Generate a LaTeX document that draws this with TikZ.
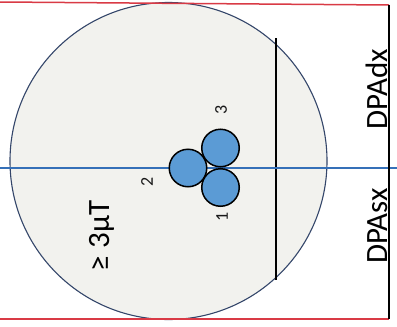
\documentclass[tikz,border=0pt]{standalone}
\usepackage{fontspec}
\setmainfont{Carlito}
\definecolor{discfill}{HTML}{F2F2EE}
\definecolor{discline}{HTML}{34466A}
\definecolor{cablefill}{HTML}{5B9BD5}
\definecolor{axisblue}{HTML}{3570B8}
\definecolor{edgered}{HTML}{D93A45}

\begin{document}
\begin{tikzpicture}[x=1pt, y=-1pt,
    disc/.style={circle, draw=discline, line width=1.1pt, fill=discfill, inner sep=0pt, minimum size=317pt},
    cable/.style={circle, draw=black, line width=1.5pt, fill=cablefill, inner sep=0pt, minimum size=37.5pt},
    num/.style={rotate=90, inner sep=0pt, text=black!90, font=\fontsize{18}{18}\selectfont},
    tag/.style={rotate=90, anchor=base, inner sep=0pt, text=black, font=\fontsize{31}{31}\selectfont}
  ]
  \useasboundingbox (0,0) rectangle (397,327);
  \fill[white] (0,0) rectangle (397,327);

  % field region
  \node[disc] (zone) at (168.5,161) {};

  % boundaries
  \coordinate (redTL) at (0,2);
  \coordinate (redTR) at (389,5);
  \coordinate (redBL) at (0,319);
  \coordinate (redBR) at (389,319);
  \coordinate (axisL) at (0,168);
  \coordinate (axisR) at (397,168);
  \coordinate (limT) at (276,38);
  \coordinate (limB) at (276,280);

  \draw[black, line width=1.4pt] (limT) -- (limB);
  \draw[axisblue, line width=1.3pt] (axisL) -- (axisR);
  \draw[edgered, line width=1.5pt] (redTL) -- (redTR);
  \draw[edgered, line width=1.5pt] (redBL) -- (redBR);
  \draw[black, line width=1.5pt] (redTR) -- (redBR);

  % conductors
  \node[cable] (c2) at (188,168) {};
  \node[cable] (c3) at (220.5,148) {};
  \node[cable] (c1) at (220.5,187.5) {};

  \node[num] (n3) at (221,110) {3};
  \node[num] (n2) at (147,182) {2};
  \node[num] (n1) at (222,217) {1};

  % labels
  \node[tag] (field) at (109,236) {≥ 3µT};
  \node[tag] (dpadx) at (387,89) {DPAdx};
  \node[tag] (dpasx) at (387,226) {DPAsx};
\end{tikzpicture}
\end{document}
